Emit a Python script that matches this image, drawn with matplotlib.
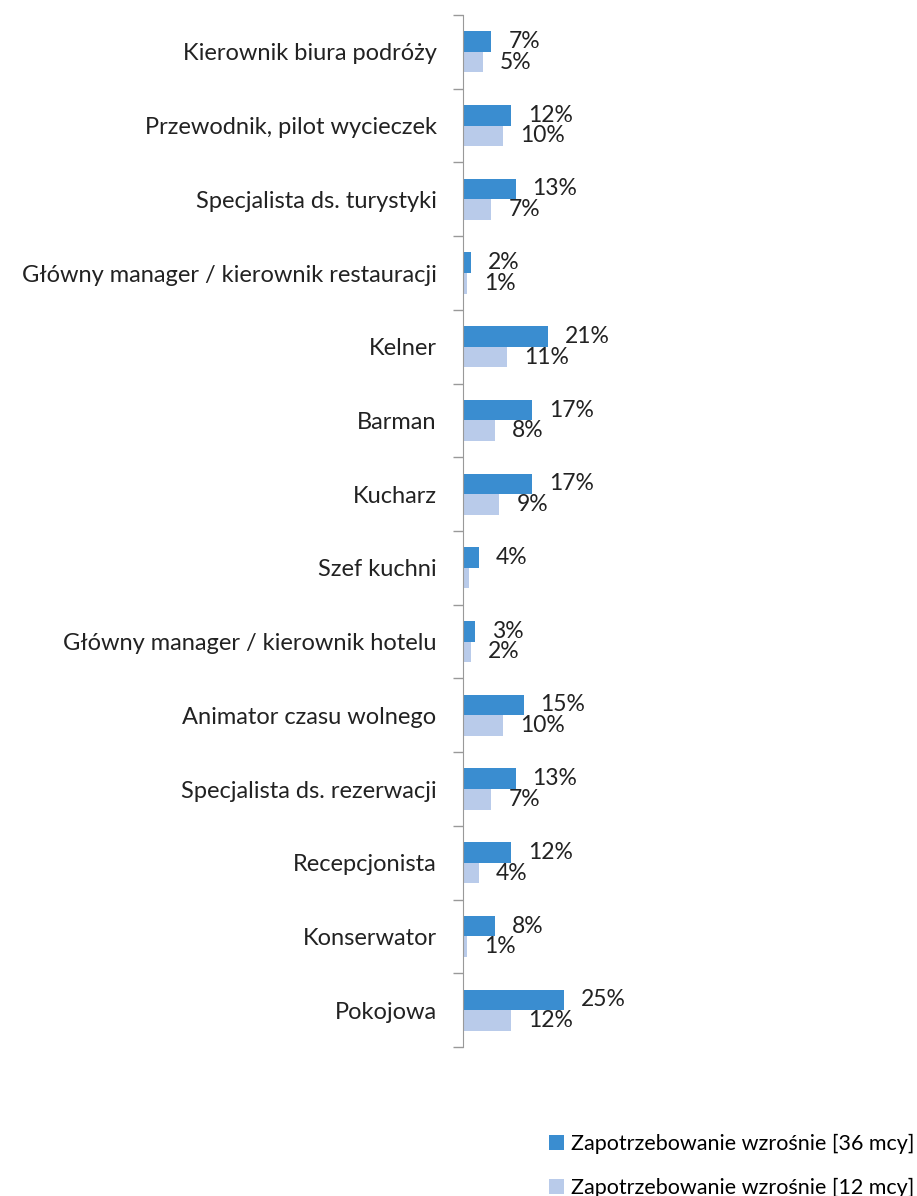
import numpy as np
import matplotlib.pyplot as plt

categories = [
    'Kierownik biura podróży',
    'Przewodnik, pilot wycieczek',
    'Specjalista ds. turystyki',
    'Główny manager / kierownik restauracji',
    'Kelner',
    'Barman',
    'Kucharz',
    'Szef kuchni',
    'Główny manager / kierownik hotelu',
    'Animator czasu wolnego',
    'Specjalista ds. rezerwacji',
    'Recepcjonista',
    'Konserwator',
    'Pokojowa',
]
vals_36 = [7, 12, 13, 2, 21, 17, 17, 4, 3, 15, 13, 12, 8, 25]
vals_12 = [5, 10, 7, 1, 11, 8, 9, 1.5, 2, 10, 7, 4, 1, 12]
labels_36 = ['7%', '12%', '13%', '2%', '21%', '17%', '17%', '4%', '3%', '15%', '13%', '12%', '8%', '25%']
labels_12 = ['5%', '10%', '7%', '1%', '11%', '8%', '9%', '', '2%', '10%', '7%', '4%', '1%', '12%']
series_names = ['Zapotrzebowanie wzrośnie [36 mcy]', 'Zapotrzebowanie wzrośnie [12 mcy]']

dark = '#3a8dd0'
light = '#b9cbea'
plt.rcParams['font.family'] = ['Lato', 'DejaVu Sans']

fig = plt.figure(figsize=(9.17, 11.96), dpi=100)
ax = fig.add_axes([463 / 917, 1 - 1047 / 1196, 1 - 463 / 917, (1047 - 15) / 1196])

y = np.arange(len(categories))
h = 0.28
b36 = ax.barh(y - h / 2, vals_36, height=h, color=dark, label=series_names[0])
b12 = ax.barh(y + h / 2, vals_12, height=h, color=light, label=series_names[1])

for yy, v, t in zip(y, vals_36, labels_36):
    ax.annotate(t, (v, yy - h / 2), xytext=(17, 0), textcoords='offset pixels',
                va='center', ha='left', fontsize=16.5, color='#222222')
for yy, v, t in zip(y, vals_12, labels_12):
    if t:
        ax.annotate(t, (v, yy + h / 2), xytext=(17, 0), textcoords='offset pixels',
                    va='center', ha='left', fontsize=16.5, color='#222222')

ax.set_xlim(0, 454 / 4.04)
ax.set_ylim(len(categories) - 0.5, -0.5)
ax.set_yticks(np.arange(-0.5, len(categories)), [])
ax.set_yticks(y, categories, minor=True)
ax.tick_params(axis='y', which='major', length=7, color='#999999', width=1)
ax.tick_params(axis='y', which='minor', length=0, pad=19, labelsize=17, labelcolor='#222222')
ax.set_xticks([])
for s in ['top', 'right', 'bottom']:
    ax.spines[s].set_visible(False)
ax.spines['left'].set_color('#999999')

fig.legend(handles=[b36, b12], loc='upper left', bbox_to_anchor=(549 / 917, 1 - 1134 / 1196),
           frameon=False, fontsize=15.5, handlelength=0.7, handleheight=0.7,
           handletextpad=0.3, labelspacing=1.1, borderaxespad=0, borderpad=0)

fig.savefig('out.png', dpi=100)
